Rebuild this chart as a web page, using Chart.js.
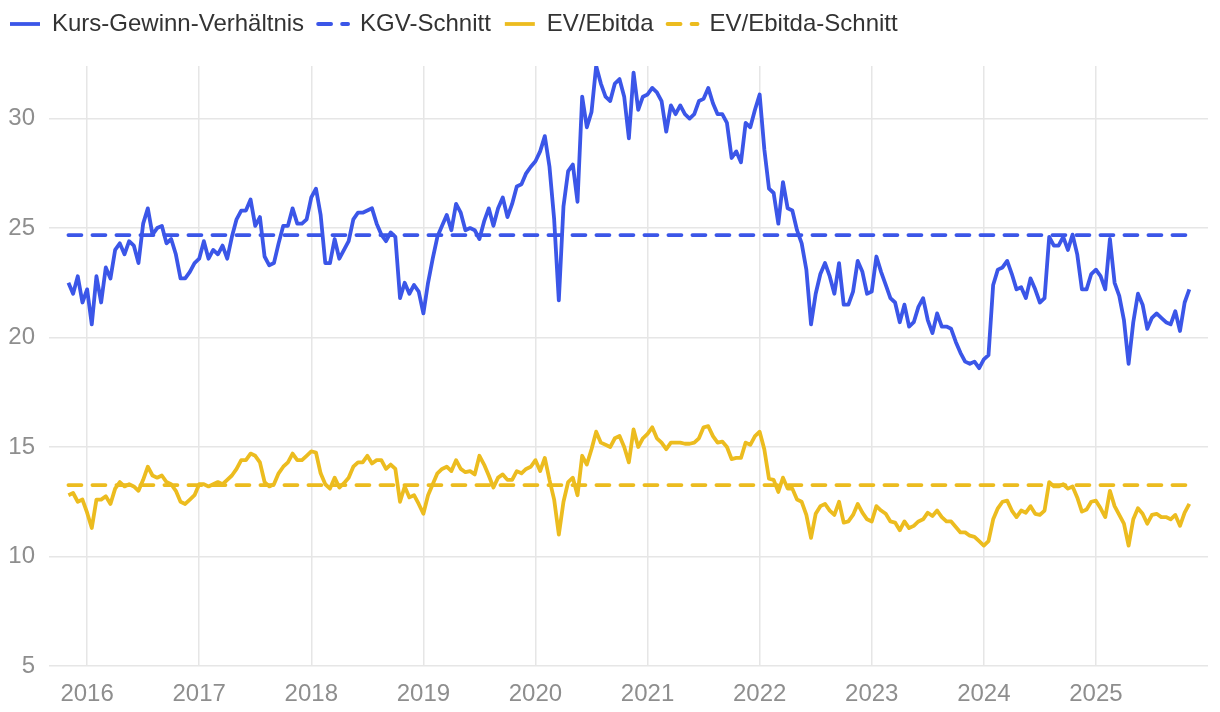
<!DOCTYPE html>
<html>
<head>
<meta charset="utf-8">
<script src="https://cdn.jsdelivr.net/npm/chart.js@4.4.1/dist/chart.umd.min.js"></script>
<style>
  html, body { margin: 0; padding: 0; background: #fff; }
  #wrap { width: 1220px; height: 712px; position: relative; }
</style>
</head>
<body>
<div id="wrap"><canvas id="myChart"></canvas></div>
<script>
// semi-monthly readings, Nov 2015 - Oct 2025
const startYear = 2015 + 10 / 12;
const stepYear = 1 / 24;

const yearTicks = [2016, 2017, 2018, 2019, 2020, 2021, 2022, 2023, 2024, 2025];
const valueTicks = [5, 10, 15, 20, 25, 30];

const kgv = [
  22.5, 22.0, 22.8, 21.6, 22.2, 20.6, 22.8, 21.6, 23.2, 22.7,
  24.0, 24.3, 23.8, 24.4, 24.2, 23.4, 25.2, 25.9, 24.7, 25.0,
  25.1, 24.3, 24.5, 23.8, 22.7, 22.7, 23.0, 23.4, 23.6, 24.4,
  23.6, 24.0, 23.8, 24.2, 23.6, 24.6, 25.4, 25.8, 25.8, 26.3,
  25.1, 25.5, 23.7, 23.3, 23.4, 24.3, 25.1, 25.1, 25.9, 25.2,
  25.2, 25.4, 26.4, 26.8, 25.6, 23.4, 23.4, 24.5, 23.6, 24.0,
  24.4, 25.4, 25.7, 25.7, 25.8, 25.9, 25.2, 24.7, 24.4, 24.8,
  24.6, 21.8, 22.5, 22.0, 22.4, 22.1, 21.1, 22.5, 23.6, 24.6,
  25.1, 25.6, 24.9, 26.1, 25.7, 24.9, 25.0, 24.9, 24.5, 25.3,
  25.9, 25.1, 25.9, 26.4, 25.5, 26.1, 26.9, 27.0, 27.5, 27.8,
  28.05, 28.5, 29.2, 27.8, 25.4, 21.7, 26.0, 27.6, 27.9, 26.2,
  31.0, 29.6, 30.3, 32.4, 31.6, 31.0, 30.8, 31.6, 31.8, 31.0,
  29.1, 32.1, 30.4, 31.0, 31.1, 31.4, 31.2, 30.8, 29.4, 30.6,
  30.2, 30.6, 30.2, 30.0, 30.2, 30.8, 30.9, 31.4, 30.7, 30.2,
  30.2, 29.8, 28.2, 28.5, 28.0, 29.8, 29.6, 30.4, 31.1, 28.6,
  26.8, 26.6, 25.2, 27.1, 25.9, 25.8, 24.9, 24.3, 23.1, 20.6,
  22.0, 22.9, 23.4, 22.8, 22.0, 23.4, 21.5, 21.5, 22.1, 23.5,
  23.0, 22.0, 22.1, 23.7, 23.0, 22.4, 21.8, 21.6, 20.7, 21.5,
  20.5, 20.7, 21.4, 21.8, 20.8, 20.2, 21.1, 20.5, 20.5, 20.4,
  19.8, 19.3, 18.9, 18.8, 18.9, 18.6, 19.0, 19.2, 22.4, 23.1,
  23.2, 23.5, 22.9, 22.2, 22.3, 21.8, 22.7, 22.2, 21.6, 21.8,
  24.6, 24.2, 24.2, 24.6, 24.0, 24.7, 23.8, 22.2, 22.2, 22.9,
  23.1, 22.8, 22.2, 24.5, 22.5, 21.9, 20.8, 18.8, 20.7, 22.0,
  21.5, 20.4, 20.9, 21.1, 20.9, 20.7, 20.6, 21.2, 20.3, 21.6, 22.2
];

const evEbitda = [
  12.8, 12.9, 12.5, 12.6, 12.0, 11.3, 12.6, 12.6, 12.75, 12.4,
  13.1, 13.4, 13.2, 13.3, 13.2, 13.0, 13.5, 14.1, 13.7, 13.6,
  13.7, 13.4, 13.3, 13.0, 12.5, 12.4, 12.6, 12.8, 13.3, 13.3,
  13.2, 13.3, 13.4, 13.3, 13.5, 13.7, 14.0, 14.4, 14.4, 14.7,
  14.6, 14.3, 13.4, 13.2, 13.3, 13.8, 14.1, 14.3, 14.7, 14.4,
  14.4, 14.6, 14.8, 14.75, 13.8, 13.3, 13.1, 13.6, 13.15, 13.35,
  13.6, 14.1, 14.3, 14.3, 14.6, 14.25, 14.4, 14.4, 14.0, 14.2,
  14.0, 12.5, 13.2, 12.7, 12.8, 12.4, 11.95, 12.8, 13.3, 13.8,
  14.0, 14.1, 13.9, 14.4, 14.0, 13.85, 13.9, 13.75, 14.6, 14.2,
  13.7, 13.15, 13.6, 13.75, 13.5, 13.5, 13.9, 13.8, 14.0, 14.1,
  14.4, 13.9, 14.5, 13.5, 12.6, 11.0, 12.5, 13.4, 13.6, 12.8,
  14.6, 14.2, 14.9, 15.7, 15.2, 15.1, 15.0, 15.4, 15.5, 15.0,
  14.3, 15.8, 15.0, 15.4, 15.6, 15.9, 15.4, 15.2, 14.9, 15.2,
  15.2, 15.2, 15.15, 15.15, 15.2, 15.4, 15.9, 15.95, 15.5, 15.2,
  15.25, 15.0, 14.45, 14.5, 14.5, 15.2, 15.1, 15.5, 15.7, 14.9,
  13.55, 13.5, 12.95, 13.6, 13.1, 13.1, 12.6, 12.5, 11.9, 10.85,
  11.95, 12.3, 12.4, 12.1, 11.9, 12.5, 11.55, 11.6, 11.9, 12.4,
  12.0, 11.7, 11.6, 12.3, 12.1, 11.95, 11.6, 11.55, 11.2, 11.6,
  11.3, 11.4, 11.6, 11.7, 12.0, 11.85, 12.1, 11.8, 11.6, 11.6,
  11.35, 11.1, 11.1, 10.95, 10.9, 10.7, 10.5, 10.7, 11.7, 12.2,
  12.5, 12.55, 12.1, 11.8, 12.1, 12.0, 12.3, 11.95, 11.9, 12.1,
  13.4, 13.2, 13.2, 13.3, 13.1, 13.2, 12.7, 12.05, 12.15, 12.5,
  12.55, 12.2, 11.8, 13.0, 12.3, 11.9, 11.5, 10.5, 11.7, 12.2,
  11.95, 11.5, 11.9, 11.95, 11.8, 11.8, 11.7, 11.9, 11.4, 12.0, 12.4
];

const kgvAvg = 24.68;
const evAvg = 13.26;

const blue = 'rgb(59, 86, 232)';
const yellow = 'rgb(236, 188, 31)';
const font = '"Liberation Sans", Arial, Helvetica, sans-serif';

const toPoints = (arr) => arr.map((v, i) => ({ x: startYear + i * stepYear, y: v }));
const firstX = startYear;
const lastX = startYear + (kgv.length - 1) * stepYear;

// a bit of room between legend and plot
const legendGap = {
  id: 'legendGap',
  beforeInit(chart) {
    const fit = chart.legend.fit;
    chart.legend.fit = function () {
      fit.call(this);
      this.height += 20;
    };
  }
};

const ctx = document.getElementById('myChart').getContext('2d');
new Chart(ctx, {
  type: 'line',
  data: {
    datasets: [
      {
        label: 'Kurs-Gewinn-Verhältnis',
        data: toPoints(kgv),
        borderColor: blue,
        backgroundColor: blue,
        borderWidth: 3.8,
        borderJoinStyle: 'round'
      },
      {
        label: 'KGV-Schnitt',
        data: [{ x: firstX, y: kgvAvg }, { x: lastX, y: kgvAvg }],
        borderColor: blue,
        backgroundColor: blue,
        borderWidth: 3.8,
        borderDash: [13, 11],
        borderCapStyle: 'round'
      },
      {
        label: 'EV/Ebitda',
        data: toPoints(evEbitda),
        borderColor: yellow,
        backgroundColor: yellow,
        borderWidth: 3.8,
        borderJoinStyle: 'round'
      },
      {
        label: 'EV/Ebitda-Schnitt',
        data: [{ x: firstX, y: evAvg }, { x: lastX, y: evAvg }],
        borderColor: yellow,
        backgroundColor: yellow,
        borderWidth: 3.8,
        borderDash: [13, 11],
        borderCapStyle: 'round'
      }
    ]
  },
  plugins: [legendGap],
  options: {
    responsive: true,
    maintainAspectRatio: false,
    animation: false,
    elements: { point: { radius: 0, hoverRadius: 0 }, line: { tension: 0 } },
    layout: { padding: { left: -4, right: 12, top: -2, bottom: 0 } },
    plugins: {
      tooltip: { enabled: false },
      legend: {
        position: 'top',
        align: 'start',
        labels: {
          usePointStyle: true,
          pointStyle: 'line',
          pointStyleWidth: 30,
          padding: 14,
          color: '#333',
          font: { family: font, size: 24 },
          generateLabels: (chart) =>
            Chart.defaults.plugins.legend.labels.generateLabels(chart).map((item) => {
              const ds = chart.data.datasets[item.datasetIndex];
              item.lineDash = ds.borderDash || [];
              item.lineCap = ds.borderCapStyle || 'butt';
              item.lineWidth = 3.8;
              item.strokeStyle = ds.borderColor;
              return item;
            })
        }
      }
    },
    scales: {
      x: {
        type: 'linear',
        min: 2015.66,
        max: 2026.0,
        afterBuildTicks: (scale) => { scale.ticks = yearTicks.map(v => ({ value: v })); },
        afterFit: (scale) => { scale.height = 46; },
        ticks: {
          color: '#8e8e8e',
          padding: 14,
          font: { family: font, size: 24 },
          callback: (v) => String(v),
          maxRotation: 0
        },
        grid: { color: '#e6e6e6', lineWidth: 1.5, drawTicks: false },
        border: { display: false }
      },
      y: {
        min: 5,
        max: 32.4,
        afterBuildTicks: (scale) => { scale.ticks = valueTicks.map(v => ({ value: v })); },
        afterFit: (scale) => { scale.width = 53; },
        ticks: {
          color: '#8e8e8e',
          padding: 14,
          font: { family: font, size: 24 }
        },
        grid: { color: '#e6e6e6', lineWidth: 1.5, drawTicks: false },
        border: { display: false }
      }
    }
  }
});
</script>
</body>
</html>
